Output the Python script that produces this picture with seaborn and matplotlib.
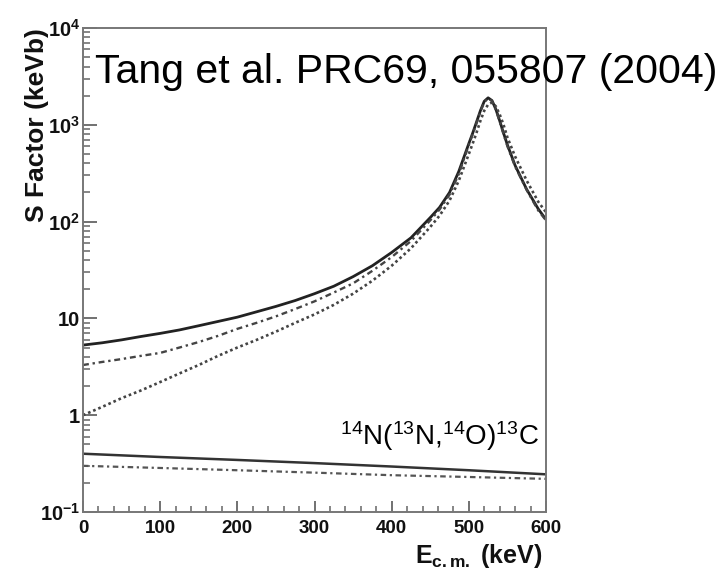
import matplotlib
matplotlib.use("Agg")
import matplotlib.pyplot as plt
from matplotlib.ticker import MultipleLocator
import numpy as np
import pandas as pd
import seaborn as sns

# ---- data ----
energy_upper = [0, 25, 50, 75, 100, 125, 150, 175, 200, 225, 250, 275, 300,
                325, 350, 375, 400, 425, 450, 462, 475, 487, 500, 505, 510,
                515, 520, 525, 530, 535, 540, 545, 550, 560, 575, 590, 600]
s_solid = [5.3, 5.6, 6.0, 6.5, 7.0, 7.6, 8.4, 9.3, 10.3, 11.7, 13.3, 15.3, 18,
           21.5, 27, 35, 48, 68, 110, 140, 200, 330, 640, 820, 1070,
           1400, 1750, 1900, 1780, 1450, 1100, 820, 620, 380, 215, 135, 105]
s_dashdot = [3.3, 3.55, 3.8, 4.1, 4.4, 5.0, 5.7, 6.6, 7.8, 9.0, 10.5, 12.5, 15,
             18.5, 23, 31, 43, 63, 103, 133, 190, 310, 620, 800, 1040,
             1370, 1720, 1870, 1760, 1430, 1080, 800, 600, 370, 212, 130, 103]
s_dotted = [1.0, 1.22, 1.5, 1.8, 2.2, 2.7, 3.3, 4.1, 5.0, 6.0, 7.3, 9.0, 11,
            13.8, 18, 24.5, 35, 53, 88, 115, 165, 265, 500, 640, 830,
            1100, 1400, 1620, 1700, 1550, 1280, 1000, 740, 470, 265, 160, 125]

energy_lower = [0, 100, 200, 300, 400, 500, 600]
s_low_solid = [0.40, 0.37, 0.345, 0.32, 0.295, 0.27, 0.245]
s_low_dashdot = [0.30, 0.285, 0.27, 0.255, 0.24, 0.23, 0.22]

x_ticks = [0, 100, 200, 300, 400, 500, 600]
y_ticks = [0.1, 1, 10, 100, 1000, 10000]
y_tick_labels = [r"$\mathbf{10^{-1}}$", "1", "10", r"$\mathbf{10^{2}}$",
                 r"$\mathbf{10^{3}}$", r"$\mathbf{10^{4}}$"]

title_text = "Tang et al. PRC69, 055807 (2004)"
reaction_text = r"$^{14}$N($^{13}$N,$^{14}$O)$^{13}$C"

# ---- style ----
sns.set_theme(style="white")
plt.rcParams["font.family"] = ["Liberation Sans", "DejaVu Sans"]
plt.rcParams["mathtext.fontset"] = "custom"
plt.rcParams["mathtext.rm"] = "Liberation Sans"
plt.rcParams["mathtext.bf"] = "Liberation Sans:bold"
plt.rcParams["mathtext.it"] = "Liberation Sans:italic"

fig = plt.figure(figsize=(7.23, 5.72), dpi=100)
ax = fig.add_axes([83 / 723, 1 - 512 / 572, 463 / 723, 484 / 572])

curves = [
    ("solid", energy_upper, s_solid),
    ("dashdot", energy_upper, s_dashdot),
    ("dotted", energy_upper, s_dotted),
    ("low_solid", energy_lower, s_low_solid),
    ("low_dashdot", energy_lower, s_low_dashdot),
]
styles = {
    "solid": dict(color="#222222", lw=2.0, ls="-"),
    "dashdot": dict(color="#444444", lw=1.7, ls=(0, (2.5, 1.6, 1.0, 1.6))),
    "dotted": dict(color="#444444", lw=1.9, ls=(0, (1.0, 1.1))),
    "low_solid": dict(color="#333333", lw=1.8, ls="-"),
    "low_dashdot": dict(color="#555555", lw=1.6, ls=(0, (2.5, 1.6, 1.0, 1.6))),
}
for name, xs, ys in curves:
    df = pd.DataFrame({"E": xs, "S": ys})
    st = styles[name]
    sns.lineplot(data=df, x="E", y="S", ax=ax, color=st["color"],
                 linewidth=st["lw"], linestyle=st["ls"], legend=False)

ax.set_yscale("log")
ax.set_xlim(0, 600)
ax.set_ylim(0.1, 10000)

# ticks
ax.set_xticks(x_ticks)
ax.xaxis.set_minor_locator(MultipleLocator(20))
ax.set_xticklabels([str(v) for v in x_ticks], fontweight="bold", fontsize=13.5)
ax.set_yticks(y_ticks)
ax.set_yticklabels(y_tick_labels, fontweight="bold", fontsize=14.5)
ax.tick_params(axis="x", which="major", direction="in", length=8, width=1.3,
               color="#666666", pad=6, bottom=True, top=False)
ax.tick_params(axis="x", which="minor", direction="in", length=4.5, width=1.1,
               color="#666666", bottom=True, top=False)
ax.tick_params(axis="y", which="major", direction="in", length=10, width=1.3,
               color="#666666", pad=2, left=True, right=False)
ax.tick_params(axis="y", which="minor", direction="in", length=5, width=1.1,
               color="#666666", left=True, right=False)
ax.tick_params(labelcolor="#111111")

for sp in ax.spines.values():
    sp.set_visible(True)
    sp.set_color("#777777")
    sp.set_linewidth(1.4)

ax.set_xlabel(r"$\mathbf{E_{c.m.}}$ (keV)", fontweight="bold", fontsize=18,
              loc="right", color="#111111")
ax.xaxis.set_label_coords(1.0 - 4 / 463, -0.062)
ax.set_ylabel("S Factor (keVb)", fontweight="bold", fontsize=19, loc="top",
              color="#111111")
ax.yaxis.set_label_coords(-0.073, 1.0)

ax.text(12 / 463, (512 - 83) / 484, title_text, transform=ax.transAxes,
        fontsize=29.5, ha="left", va="baseline", color="black", clip_on=False)
ax.text((340 - 83) / 463, (512 - 445) / 484, reaction_text,
        transform=ax.transAxes, fontsize=20, ha="left", va="baseline",
        color="black")

fig.savefig("out.png", dpi=100)
